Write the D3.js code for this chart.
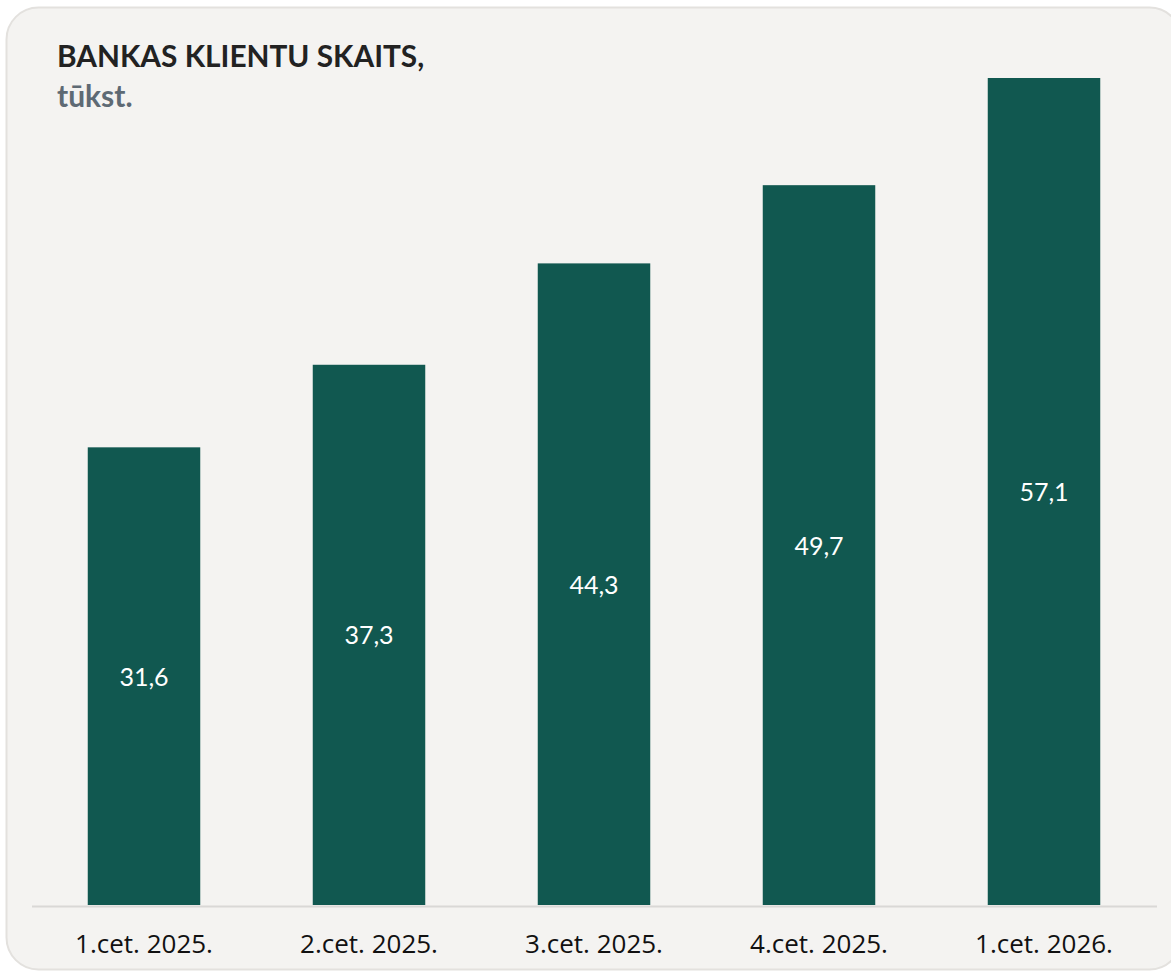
<!DOCTYPE html>
<html><head><meta charset="utf-8">
<script src="https://cdn.jsdelivr.net/npm/d3@7/dist/d3.min.js"></script>
<style>html,body{margin:0;padding:0;background:#fff;}svg{display:block;}</style>
</head><body>
<svg id="chart" width="1171" height="973"></svg>
<script>
const categories = ["1.cet. 2025.", "2.cet. 2025.", "3.cet. 2025.", "4.cet. 2025.", "1.cet. 2026."];
const values = [31.6, 37.3, 44.3, 49.7, 57.1];
const labels = ["31,6", "37,3", "44,3", "49,7", "57,1"];
const title = "BANKAS KLIENTU SKAITS,";
const subtitle = "tūkst.";

const svg = d3.select("#chart");
svg.append("rect").attr("x", 6.5).attr("y", 7.5).attr("width", 1175).attr("height", 962)
  .attr("rx", 32).attr("fill", "#f4f3f1").attr("stroke", "#e3e1de").attr("stroke-width", 2);

svg.append("text").attr("x", 57).attr("y", 67).text(title)
  .attr("font-family", "Lato").attr("font-weight", 700).attr("font-size", 29.8).attr("fill", "#222");
svg.append("text").attr("x", 57).attr("y", 107).text(subtitle)
  .attr("font-family", "Lato").attr("font-weight", 700).attr("font-size", 30).attr("fill", "#5e6a74");

const x = d3.scaleBand().domain(categories).range([31.5, 1156.5]).paddingInner(0.5).paddingOuter(0.25);
const y = d3.scaleLinear().domain([0, 60]).range([905, 36]);

svg.selectAll("rect.bar").data(values).join("rect").attr("class", "bar")
  .attr("x", (d, i) => x(categories[i])).attr("width", x.bandwidth())
  .attr("y", d => y(d)).attr("height", d => y(0) - y(d)).attr("fill", "#115850");

svg.selectAll("text.val").data(values).join("text").attr("class", "val")
  .attr("x", (d, i) => x(categories[i]) + x.bandwidth() / 2)
  .attr("y", d => (y(d) + y(0)) / 2)
  .attr("dy", "0.38em").attr("text-anchor", "middle")
  .attr("font-family", "Lato").attr("font-size", 25).attr("fill", "#fff")
  .text((d, i) => labels[i]);

const axis = svg.append("g").attr("transform", "translate(0,906)")
  .call(d3.axisBottom(x).tickSize(0).tickPadding(0));
axis.select(".domain").attr("stroke", "#d9d8d6").attr("stroke-width", 2);
axis.selectAll("text").attr("font-family", "Open Sans").attr("font-size", 26).attr("fill", "#111")
  .attr("y", 47).attr("dy", 0);
</script>
</body></html>
